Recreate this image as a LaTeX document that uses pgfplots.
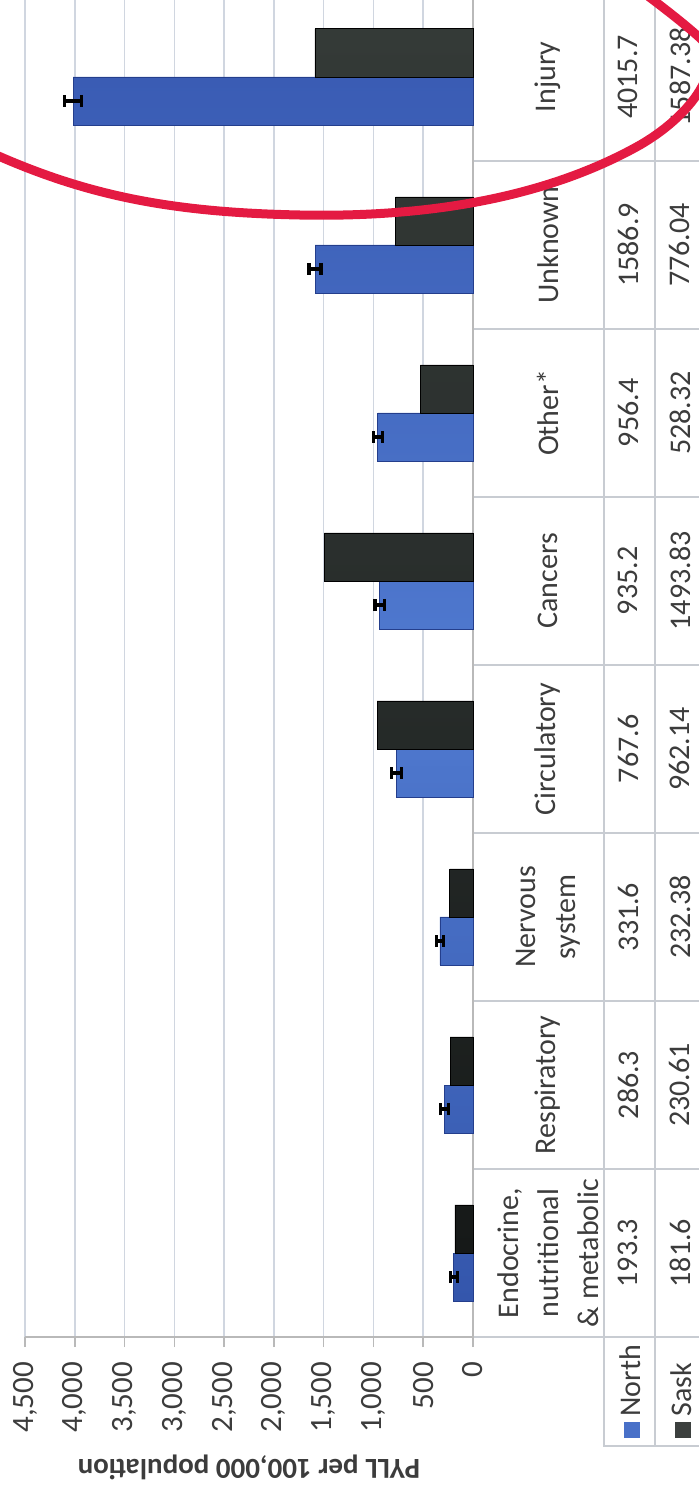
\documentclass[border=0pt]{standalone}
\usepackage{pgfplots}
\pgfplotsset{compat=1.18}
\usepackage{pgfplotstable}
\usepackage{fontspec}
\setmainfont{Carlito}
\definecolor{northblue}{RGB}{72,112,200}
\definecolor{northtop}{RGB}{58,92,180}
\definecolor{northmid}{RGB}{80,122,208}
\definecolor{northbot}{RGB}{52,86,172}
\definecolor{northedge}{RGB}{36,62,140}
\definecolor{sasktop}{RGB}{52,58,55}
\definecolor{saskmid}{RGB}{40,45,43}
\definecolor{saskbot}{RGB}{22,25,24}
\definecolor{sask}{RGB}{60,64,62}
\definecolor{txt}{RGB}{60,60,60}
\definecolor{gridc}{RGB}{208,214,224}
\definecolor{axc}{RGB}{185,185,185}
\definecolor{tabc}{RGB}{200,204,210}
\definecolor{ellred}{RGB}{228,26,66}

\pgfplotstableread{
idx north sask nerr
0 193.3 181.6 35
1 286.3 230.61 40
2 331.6 232.38 35
3 767.6 962.14 50
4 935.2 1493.83 50
5 956.4 528.32 45
6 1586.9 776.04 60
7 4015.7 1587.38 85
}\data

\begin{document}
\begin{tikzpicture}
\useasboundingbox (0,0) rectangle (349.5pt,-747pt);
\clip (0,0) rectangle (349.5pt,-747pt);
% table grid
\begin{scope}[x=0.5pt, y=-0.5pt]
  \foreach \yy in {1337,1169,1001,833,665,497,329,161}
    \draw[tabc, line width=0.8pt] (473,\yy) -- (705,\yy);
  \draw[tabc, line width=0.8pt] (604,-10) -- (604,1446) -- (705,1446);
  \draw[tabc, line width=0.8pt] (655,-10) -- (655,1446);
\end{scope}
\begin{axis}[
  at={(12.5pt,-668.5pt)}, anchor=south west,
  scale only axis, width=224pt, height=668.5pt,
  xmin=0, xmax=4500, x dir=reverse,
  ymin=-0.5, ymax=7.458,
  clip=false,
  axis x line*=bottom, axis y line*=right,
  axis line style={draw=axc, line width=0.8pt},
  xtick={0,500,...,4500},
  xmajorgrids, grid style={draw=gridc, line width=0.8pt},
  tick align=outside, major tick length=5pt,
  xtick style={draw=axc, line width=0.8pt},
  ytick={0,...,7}, ytick style={draw=none},
  yticklabels={{Endocrine,\\nutritional\\\& metabolic},Respiratory,{Nervous\\system},Circulatory,Cancers,Other*,Unknown,Injury},
  yticklabel style={rotate=90, anchor=center, align=center, font=\fontsize{15}{20}\selectfont, text=txt},
  yticklabel shift=32.5pt,
  xticklabel style={rotate=90, anchor=east, font=\fontsize{15.5}{18}\selectfont, text=txt},
  xticklabel shift=4pt,
  xlabel={PYLL per 100,000 population},
  xlabel style={at={(axis description cs:0.5,-0.0972)}, anchor=center, rotate=180, font=\bfseries\fontsize{14.5}{17}\selectfont, text=txt},
  /pgf/number format/1000 sep={,},
  /pgf/number format/assume math mode=true,
]
\addplot[xbar, bar width=0.286, bar shift=-0.143, draw=northedge, line width=0.4pt,
  top color=northtop, bottom color=northbot, middle color=northmid]
  table[x=north, y=idx] {\data};
\addplot[xbar, bar width=0.286, bar shift=0.143, draw=black, line width=0.4pt,
  top color=sasktop, bottom color=saskbot, middle color=saskmid]
  table[x=sask, y=idx] {\data};
% error bars of North, at the centre of the North bars
\addplot[draw=none,
  error bars/.cd, x dir=both, x explicit, error mark=|,
  error bar style={draw=black, line width=1.6pt},
  error mark options={draw=black, line width=1.6pt, mark size=3pt}]
  table[x=north, y expr=\thisrow{idx}-0.143, x error=nerr] {\data};
\addplot[draw=none, nodes near coords, point meta=explicit symbolic,
  every node near coord/.append style={rotate=90, anchor=center, font=\fontsize{15}{18}\selectfont, text=txt}]
  table[x expr=-1557, y=idx, meta=north] {\data};
\addplot[draw=none, nodes near coords, point meta=explicit symbolic,
  every node near coord/.append style={rotate=90, anchor=center, font=\fontsize{15}{18}\selectfont, text=txt}]
  table[x expr=-2079, y=idx, meta=sask] {\data};
\end{axis}
\begin{scope}[x=0.5pt, y=-0.5pt]
  \node[rotate=90, anchor=west, inner sep=0pt, font=\fontsize{15}{18}\selectfont, text=txt] at (630,1438)
    {\textcolor{northblue}{\rule{8pt}{8pt}}\,North};
  \node[rotate=90, anchor=west, inner sep=0pt, font=\fontsize{15}{18}\selectfont, text=txt] at (681,1438)
    {\textcolor{sask}{\rule{8pt}{8pt}}\,Sask};
  \draw[ellred, line width=4.5pt] (-60,128) .. controls (60,190) and (150,212) .. (300,215)
    .. controls (450,218) and (560,190) .. (640,145)
    .. controls (700,110) and (725,60) .. (700,38)
    .. controls (680,20) and (660,5) .. (620,-25);
\end{scope}
\end{tikzpicture}
\end{document}
